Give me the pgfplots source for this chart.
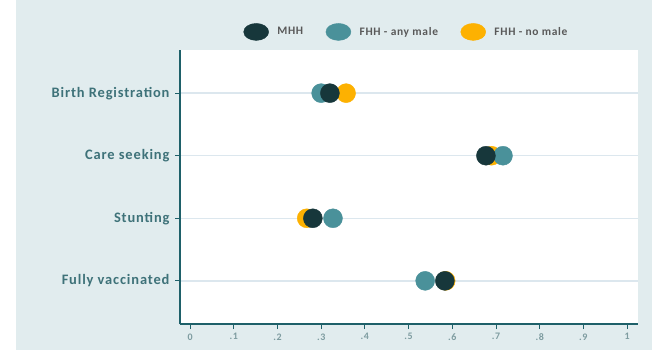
\documentclass[border=0pt]{standalone}
\usepackage{pgfplots}
\pgfplotsset{compat=1.18}
\usepackage{fontspec}
\setmainfont{Carlito}
\newfontfamily\labfont{Carlito}[LetterSpace=6]
\newfontfamily\legfont{Carlito}[LetterSpace=6]
\definecolor{mhh}{HTML}{17373B}
\definecolor{anym}{HTML}{4A919A}
\definecolor{nom}{HTML}{FDB101}
\definecolor{bgc}{HTML}{E1ECEE}
\definecolor{gridc}{HTML}{DCE7EE}
\definecolor{axc}{HTML}{1E6069}
\definecolor{labc}{HTML}{3E7279}
\definecolor{tickc}{HTML}{7E9CA0}
\begin{document}
\begin{tikzpicture}
\fill[white] (0bp,0bp) rectangle (652bp,350bp);
\fill[bgc] (16bp,0bp) rectangle (652bp,350bp);
\begin{axis}[
  at={(180bp,26bp)}, anchor=south west,
  scale only axis, width=458bp, height=274bp,
  xmin=-0.023, xmax=1.025, ymin=0.31, ymax=4.69,
  axis background/.style={fill=white},
  axis x line*=bottom, axis y line*=left,
  axis line style={axc, line width=1.6pt},
  xtick={0,0.1,...,1},
  xticklabels={0,.1,.2,.3,.4,.5,.6,.7,.8,.9,1},
  ytick={1,2,3,4},
  yticklabels={Fully vaccinated,Stunting,Care seeking,Birth Registration},
  /pgf/number format/assume math mode=true,
  x tick label style={font=\labfont\bfseries\fontsize{10}{11}\selectfont, text=tickc, yshift=-1bp},
  y tick label style={font=\labfont\bfseries\fontsize{14.5}{16}\selectfont, text=labc, xshift=-2bp},
  tick style={axc, line width=0.9pt},
  tick align=outside, major tick length=5bp,
  ymajorgrids, xmajorgrids=false,
  grid style={gridc, line width=1.5pt},
  clip=false,
  legend columns=3,
  legend style={at={(0.4945,1.066)}, anchor=center, draw=none, fill=none,
    font=\legfont\bfseries\fontsize{11.5}{12}\selectfont, text=black!65,
    /tikz/every even column/.append style={column sep=20.5bp},
    /tikz/every odd column/.append style={column sep=6.5bp}},
]
\addlegendimage{legend image code/.code={\fill[mhh] (12.5bp,0bp) ellipse [x radius=12.5bp, y radius=8.5bp];}}
\addlegendentry{MHH}
\addlegendimage{legend image code/.code={\fill[anym] (12.5bp,0bp) ellipse [x radius=12.5bp, y radius=8.5bp];}}
\addlegendentry{FHH - any male}
\addlegendimage{legend image code/.code={\fill[nom] (12.5bp,0bp) ellipse [x radius=12.5bp, y radius=8.5bp];}}
\addlegendentry{FHH - no male}
% FHH - no male
\addplot[only marks, mark=*, mark size=9.5bp, color=nom, forget plot] coordinates {
  (0.357,4) (0.690,3) (0.267,2) (0.585,1)};
% FHH - any male
\addplot[only marks, mark=*, mark size=9.5bp, color=anym, forget plot] coordinates {
  (0.300,4) (0.716,3) (0.327,2) (0.538,1)};
% MHH
\addplot[only marks, mark=*, mark size=9.5bp, color=mhh, forget plot] coordinates {
  (0.320,4) (0.677,3) (0.281,2) (0.583,1)};
\end{axis}
\end{tikzpicture}
\end{document}
